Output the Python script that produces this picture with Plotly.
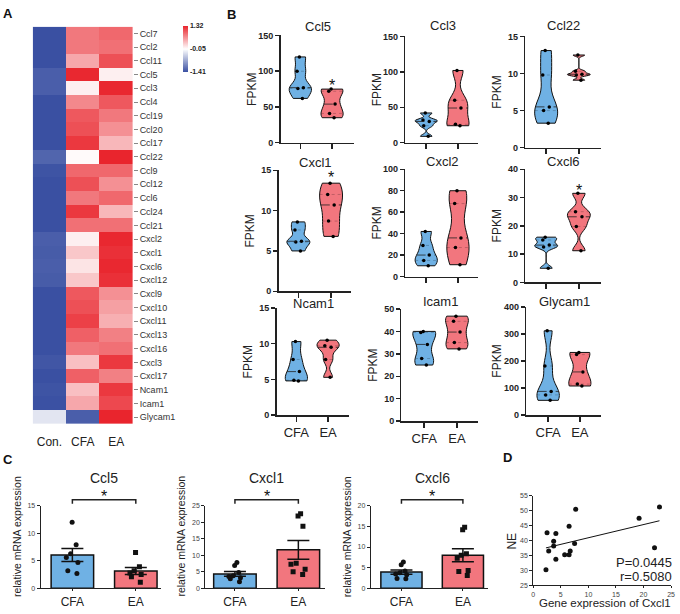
import numpy as np
import plotly.graph_objects as go

W, H = 680, 614
FONT = "Liberation Sans, Arial, sans-serif"
BLUE = "#6fb1e4"
RED = "#f2767e"

# ---------------- DATA ----------------
# Panel A heatmap (row z-scores)
genes = ['Ccl7', 'Ccl2', 'Ccl11', 'Ccl5', 'Ccl3', 'Ccl4', 'Ccl19', 'Ccl20', 'Ccl17', 'Ccl22',
         'Ccl9', 'Ccl12', 'Ccl6', 'Ccl24', 'Ccl21', 'Cxcl2', 'Cxcl1', 'Cxcl6', 'Cxcl12', 'Cxcl9',
         'Cxcl10', 'Cxcl11', 'Cxcl13', 'Cxcl16', 'Cxcl3', 'Cxcl17', 'Ncam1', 'Icam1', 'Glycam1']
hm_groups = ['Con.', 'CFA', 'EA']
z_con = [-1.41, -1.41, -1.41, -1.30, -1.30, -1.41, -1.41, -1.41, -1.41, -1.25,
         -1.38, -1.41, -1.41, -1.41, -1.41, -1.30, -1.32, -1.30, -1.32, -1.41,
         -1.41, -1.41, -1.41, -1.41, -1.36, -1.41, -1.38, -1.40, -0.25]
z_cfa = [0.80, 0.80, 0.50, 1.30, 0.05, 0.70, 1.00, 1.05, 1.20, -0.02,
         0.90, 1.05, 0.80, 1.20, 0.85, 0.05, 0.30, 0.12, 0.30, 1.00,
         1.05, 1.15, 0.95, 0.80, 0.35, 0.95, 0.35, 0.50, -1.30]
z_ea = [0.90, 0.85, 1.05, 0.05, 1.30, 1.00, 0.80, 0.65, 0.40, 1.32,
        0.90, 0.65, 0.90, 0.40, 0.85, 1.30, 1.25, 1.30, 1.25, 0.65,
        0.55, 0.45, 0.75, 0.85, 1.20, 0.75, 1.20, 1.10, 1.32]
cbar_vals = [1.32, -0.05, -1.41]

# Panel B violins (FPKM, n=5)
ccl5_cfa = [120, 100, 77, 76, 62]
ccl5_ea = [75, 72, 54, 41, 35]
ccl3_cfa = [42, 32, 30, 24, 9]
ccl3_ea = [102, 60, 49, 26, 24]
ccl22_cfa = [13.1, 9.8, 5.5, 5.0, 3.3]
ccl22_ea = [12.5, 10.3, 9.9, 9.8, 9.1]
cxcl1_cfa = [8.6, 7.6, 6.2, 6.1, 5.0]
cxcl1_ea = [13.4, 12.0, 10.7, 8.7, 6.8]
cxcl2_cfa = [42, 29, 20, 15, 10]
cxcl2_ea = [80, 68, 36, 27, 11]
cxcl6_cfa = [16.0, 15.0, 13.2, 12.5, 5.0]
cxcl6_ea = [31.5, 25.0, 23.2, 19.8, 11.2]
ncam1_cfa = [10.3, 7.8, 6.1, 4.9, 4.8]
ncam1_ea = [10.5, 9.7, 9.5, 7.8, 5.3]
icam1_cfa = [40.0, 39.5, 34.2, 27.9, 25.0]
icam1_ea = [46.8, 44.5, 39.7, 35.0, 32.2]
glycam1_cfa = [312, 182, 88, 75, 55]
glycam1_ea = [232, 224, 160, 115, 108]
group_labels = ['CFA', 'EA']

# Panel C qPCR (relative mRNA expression)
qc_ccl5_cfa = [12.0, 7.9, 6.3, 5.6, 4.7, 3.2, 2.7]
qc_ccl5_ea = [6.5, 3.9, 3.2, 2.8, 2.5, 2.1, 1.1]
qc_cxcl1_cfa = [7.8, 6.9, 4.8, 3.8, 3.6, 3.2, 2.9, 2.0]
qc_cxcl1_ea = [22.6, 21.9, 18.8, 7.6, 7.3, 5.8, 5.0, 4.2]
qc_cxcl6_cfa = [6.4, 5.7, 4.2, 3.8, 3.5, 3.3, 2.4, 2.3]
qc_cxcl6_ea = [14.8, 14.2, 8.4, 8.0, 7.3, 4.3, 4.1, 3.1]

# Panel D correlation
d_cxcl1 = [22.9, 19.2, 7.7, 6.5, 2.5, 4.1, 3.7, 3.7, 2.8, 4.1, 2.3, 5.7, 6.5, 6.7, 7.5, 22.0]
d_ne = [51.3, 47.5, 50.5, 44.8, 42.6, 42.4, 39.8, 38.2, 36.5, 33.8, 30.2, 35.3, 35.3, 36.5, 39.0, 37.6]
d_stats = ['P=0.0445', 'r=0.5080']

# ---------------- HELPERS ----------------
def fx(px):
    return px / W


def fy(py):
    return 1 - py / H


fig = go.Figure()
layout = dict(width=W, height=H, margin=dict(l=0, r=0, t=0, b=0),
              paper_bgcolor='white', plot_bgcolor='white', showlegend=False,
              font=dict(family=FONT, color='#222'), hovermode=False)
annotations = []
shapes = []


def ann(text, x, y, size=12, bold=False, angle=0, xanchor='center', yanchor='middle',
        xref='paper', yref='paper', color='#111', yshift=0):
    annotations.append(dict(text=text, x=x, y=y, xref=xref, yref=yref, showarrow=False,
                            textangle=angle, xanchor=xanchor, yanchor=yanchor, yshift=yshift,
                            font=dict(size=size, family=FONT, color=color,
                                      weight='bold' if bold else 'normal')))


# ---------------- PANEL A ----------------
z = [[c, f, e] for c, f, e in zip(z_con, z_cfa, z_ea)]
fig.add_trace(go.Heatmap(
    z=z, x=hm_groups, y=genes, zmin=-1.41, zmax=1.32,
    colorscale=[[0, '#3a50a2'], [(-0.05 + 1.41) / 2.73, '#ffffff'], [1, '#e9252d']],
    xaxis='x', yaxis='y',
    colorbar=dict(x=fx(183), xanchor='left', y=fy(21), yanchor='top', lenmode='pixels', len=46,
                  thicknessmode='pixels', thickness=5, outlinewidth=0, xpad=0, ypad=0,
                  tickvals=cbar_vals, ticktext=[f'{v:.2f}' for v in cbar_vals], ticks='',
                  tickfont=dict(size=7, family=FONT, color='#222', weight='bold'))))
layout['xaxis'] = dict(domain=[fx(31), fx(132)], anchor='y', showgrid=False, zeroline=False,
                       ticks='outside', ticklen=7, tickcolor='rgba(0,0,0,0)',
                       tickfont=dict(size=12, family=FONT, color='#222'))
layout['yaxis'] = dict(domain=[fy(426), fy(22)], anchor='x', autorange='reversed', side='right',
                       showgrid=False, zeroline=False, tickmode='array', tickvals=genes, ticktext=genes,
                       ticks='outside', ticklen=4, tickcolor='#888', tickwidth=1,
                       tickfont=dict(size=9, family=FONT, color='#333'))

# ---------------- PANEL B ----------------
vspecs = [
    # title, cfa, ea, x_left, x_right, tick_cfa, tick_ea, y_top, y_bot, ymax, dtick, star, title_y
    ('Ccl5', ccl5_cfa, ccl5_ea, 281, 355, 301, 333, 31, 140, 150, 50, 86, 22),
    ('Ccl3', ccl3_cfa, ccl3_ea, 407, 480, 428, 460, 32, 140, 150, 50, None, 21),
    ('Ccl22', ccl22_cfa, ccl22_ea, 528, 604, 549, 582, 32, 145, 15, 5, None, 21),
    ('Cxcl1', cxcl1_cfa, cxcl1_ea, 279, 352, 299, 332, 168, 291, 15, 5, 14.6, 160),
    ('Cxcl2', cxcl2_cfa, cxcl2_ea, 407, 480, 428, 460, 167, 276, 100, 20, None, 159),
    ('Cxcl6', cxcl6_cfa, cxcl6_ea, 528, 604, 549, 582, 167, 282, 40, 10, 34, 159),
    ('Ncam1', ncam1_cfa, ncam1_ea, 277, 350, 297, 329, 308, 417, 15, 5, None, 303),
    ('Icam1', icam1_cfa, icam1_ea, 403, 480, 426, 459, 309, 423, 50, 10, None, 301),
    ('Glycam1', glycam1_cfa, glycam1_ea, 529, 604, 551, 583, 307, 417, 400, 100, None, 301),
]
VW = 0.7


def silverman(v):
    v = np.asarray(v, float)
    q1, q3 = np.percentile(v, [25, 75])
    a = min(np.std(v, ddof=1), (q3 - q1) / 1.349)
    if a <= 0:
        a = np.std(v, ddof=1)
    return 1.059 * a * len(v) ** -0.2


def halfwidths(v, bw, levels):
    v = np.asarray(v, float)
    grid = np.linspace(v.min(), v.max(), 400)

    def dens(t):
        t = np.asarray(t, float)
        return np.exp(-0.5 * ((t[:, None] - v[None, :]) / bw) ** 2).sum(1)
    dmax = dens(grid).max()
    return VW / 2 * dens(levels) / dmax


for i, (title, cfa, ea, xl, xr, tc, te, yt, yb, ymax, dt, star, ty) in enumerate(vspecs):
    n = i + 2
    xa, ya = f'x{n}', f'y{n}'
    s = te - tc
    r0, r1 = -(tc - xl) / s, (xr - tc) / s
    bottom = i >= 6
    for pos, vals, col in ((0, cfa, BLUE), (1, ea, RED)):
        bw = 0.62 * silverman(vals)
        fig.add_trace(go.Violin(
            x=[pos] * len(vals), y=vals, xaxis=xa, yaxis=ya, width=VW, spanmode='hard',
            bandwidth=bw, scalemode='width', points='all', pointpos=0, jitter=0.35,
            marker=dict(color='black', size=3.5), line=dict(color='#111', width=1),
            fillcolor=col, box=dict(visible=False), meanline=dict(visible=False),
            hoverinfo='skip'))
        q1, med, q3 = np.percentile(vals, [25, 50, 75])
        hw = halfwidths(vals, bw, [q1, med, q3])
        for lev, h, style in ((q1, hw[0], 'q'), (med, hw[1], 'm'), (q3, hw[2], 'q')):
            fig.add_trace(go.Scatter(
                x=[pos - h, pos + h], y=[lev, lev], xaxis=xa, yaxis=ya, mode='lines',
                line=dict(color='#222' if style == 'm' else 'rgba(0,0,0,0.3)',
                          width=0.8 if style == 'm' else 0.7,
                          dash='dash' if style == 'm' else 'dot'),
                hoverinfo='skip'))
    layout[f'xaxis{n}'] = dict(
        domain=[fx(xl), fx(xr)], anchor=ya, range=[r0, r1], showgrid=False, zeroline=False,
        showline=True, linecolor='#222', linewidth=1.5, ticks='outside', ticklen=5,
        tickwidth=1.5, tickcolor='#222', tickmode='array', tickvals=[0, 1],
        ticktext=group_labels if bottom else ['', ''],
        tickfont=dict(size=13, family=FONT, color='#222'))
    layout[f'yaxis{n}'] = dict(
        domain=[fy(yb), fy(yt)], anchor=xa, range=[0, ymax], dtick=dt, showgrid=False,
        zeroline=False, showline=True, linecolor='#222', linewidth=1.5, ticks='outside',
        ticklen=4, tickwidth=1.5, tickcolor='#222',
        tickfont=dict(size=9, family=FONT, color='#222', weight='bold'))
    ann(title, fx((xl + xr) / 2 + 1), fy(ty), size=13, color='#222')
    ann('FPKM', fx(xl - 29), fy((yt + yb) / 2), size=12, angle=-90, color='#222')
    if star is not None:
        ann('*', 1, star, size=16, xref=xa, yref=ya, yanchor='middle', color='#111', yshift=-4)

# ---------------- PANEL C ----------------
cspecs = [
    ('Ccl5', qc_ccl5_cfa, qc_ccl5_ea, 39, 160, 71, 135, 15),
    ('Cxcl1', qc_cxcl1_cfa, qc_cxcl1_ea, 205, 326, 235, 299, 25),
    ('Cxcl6', qc_cxcl6_cfa, qc_cxcl6_ea, 372, 490, 403, 465, 20),
]
for j, (title, cfa, ea, xl, xr, tc, te, ymax) in enumerate(cspecs):
    n = 11 + j
    xa, ya = f'x{n}', f'y{n}'
    s = te - tc
    r0, r1 = -(tc - xl) / s, (xr - tc) / s
    for pos, vals, col, sym in ((0, cfa, BLUE, 'circle'), (1, ea, RED, 'square')):
        v = np.asarray(vals, float)
        mean = v.mean()
        sem = v.std(ddof=1) / np.sqrt(len(v))
        fig.add_trace(go.Bar(x=[pos], y=[mean], xaxis=xa, yaxis=ya, width=0.67,
                             marker=dict(color=col, line=dict(color='#111', width=1.5)),
                             error_y=dict(type='data', array=[sem], color='#111',
                                          thickness=1.5, width=11),
                             hoverinfo='skip'))
        fig.add_trace(go.Box(x=[pos] * len(v), y=v, xaxis=xa, yaxis=ya, boxpoints='all',
                             jitter=0.55, pointpos=0, width=0.5,
                             fillcolor='rgba(0,0,0,0)', line=dict(color='rgba(0,0,0,0)', width=0),
                             marker=dict(color='#111', size=5, symbol=sym),
                             hoverinfo='skip'))
    layout[f'xaxis{n}'] = dict(
        domain=[fx(xl), fx(xr)], anchor=ya, range=[r0, r1], showgrid=False, zeroline=False,
        showline=True, linecolor='#222', linewidth=1, ticks='outside', ticklen=2,
        tickcolor='#222', tickmode='array', tickvals=[0, 1], ticktext=group_labels,
        tickfont=dict(size=12, family=FONT, color='#222'))
    layout[f'yaxis{n}'] = dict(
        domain=[fy(593), fy(509)], anchor=xa, range=[0, ymax], dtick=5, showgrid=False,
        zeroline=False, showline=True, linecolor='#222', linewidth=1, ticks='outside',
        ticklen=3, tickcolor='#222', tickfont=dict(size=7, family=FONT, color='#444'))
    ya_b, yb_b = fy(503), fy(507)
    shapes.append(dict(type='path', xref=xa, yref='paper',
                       path=f'M 0,{yb_b} L 0,{ya_b} L 1,{ya_b} L 1,{yb_b}',
                       line=dict(color='#222', width=1.5)))
    ann('*', 0.5, fy(496), size=16, xref=xa, color='#111', yshift=-4)
    ann(title, 0.5, fy(481), size=14, xref=xa, color='#222')
    ann('relative mRNA expression', fx(xl - 24), fy(540), size=10.5, angle=-90, color='#222')

# ---------------- PANEL D ----------------
fig.add_trace(go.Scatter(x=d_cxcl1, y=d_ne, mode='markers', xaxis='x14', yaxis='y14',
                         marker=dict(color='#111', size=5), hoverinfo='skip'))
slope, icpt = np.polyfit(d_cxcl1, d_ne, 1)
xl_fit = np.array([min(d_cxcl1), max(d_cxcl1)])
fig.add_trace(go.Scatter(x=xl_fit, y=slope * xl_fit + icpt, mode='lines', xaxis='x14',
                         yaxis='y14', line=dict(color='#111', width=1), hoverinfo='skip'))
layout['xaxis14'] = dict(domain=[fx(536), fx(675)], anchor='y14', range=[0, 25], dtick=5,
                         showgrid=False, zeroline=False, showline=True, linecolor='#222',
                         linewidth=1, ticks='outside', ticklen=2, tickcolor='#222',
                         tickfont=dict(size=7, family=FONT, color='#444'))
layout['yaxis14'] = dict(domain=[fy(590), fy(499)], anchor='x14', range=[25, 55], dtick=5,
                         showgrid=False, zeroline=False, showline=True, linecolor='#222',
                         linewidth=1, ticks='outside', ticklen=3, tickcolor='#222',
                         tickfont=dict(size=7, family=FONT, color='#444'))
ann('NE', fx(515), fy(545), size=12, angle=-90, color='#222')
ann('Gene expression of Cxcl1', fx(608), fy(608), size=11.5, color='#222')
ann(d_stats[0], fx(678), fy(567), size=13, xanchor='right', color='#222')
ann(d_stats[1], fx(678), fy(581), size=13, xanchor='right', color='#222')

# ---------------- PANEL LETTERS ----------------
ann('A', fx(6), fy(9), size=13, bold=True)
ann('B', fx(232), fy(10), size=13, bold=True)
ann('C', fx(6), fy(462), size=13, bold=True)
ann('D', fx(510), fy(460), size=13, bold=True)

layout['annotations'] = annotations
layout['shapes'] = shapes
fig.update_layout(**layout)
fig.write_html('out.html', config={'displayModeBar': False, 'staticPlot': True},
               post_script="document.body.style.margin='0';document.body.style.overflow='hidden';")
